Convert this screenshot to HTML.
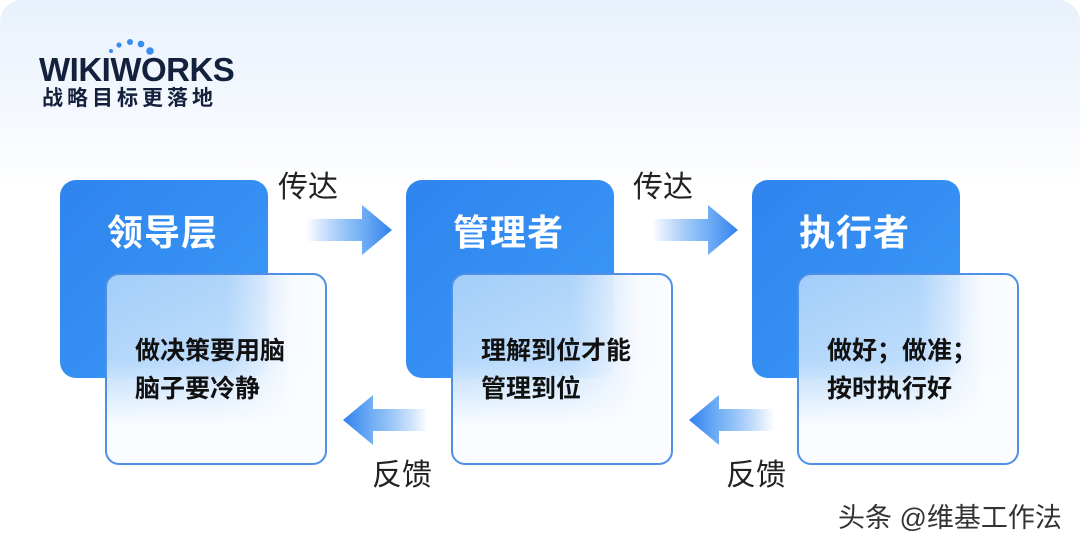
<!DOCTYPE html>
<html><head><meta charset="utf-8"><style>
*{margin:0;padding:0;box-sizing:border-box}
body{width:1080px;height:544px;overflow:hidden;background:#fff;font-family:"Liberation Sans","Noto Sans CJK SC",sans-serif;position:relative}
.bg{position:absolute;left:0;top:0;width:1080px;height:544px;border-radius:22px;background:linear-gradient(180deg,#e8f1fc 0%,#f6f9fe 22%,#fff 35%,#fff 100%)}
.blue{position:absolute;width:208px;height:198px;top:180px;border-radius:16px;background:linear-gradient(135deg,#2f84ee,#3b9af7)}
.blue span{position:absolute;left:47px;top:24px;color:#fff;font-size:36px;font-weight:bold;letter-spacing:1px}
.white{position:absolute;width:222px;height:192px;top:273px;border-radius:14px;border:2px solid #4f8fe6;background:linear-gradient(180deg,rgba(255,255,255,0) 0%,rgba(250,252,255,0.2) 45%,#fafcff 80%),linear-gradient(90deg,rgba(165,208,250,0.97) 0%,rgba(185,218,251,0.92) 55%,rgba(248,250,255,0.98) 85%,#fbfcff 100%)}
.white p{position:absolute;left:28px;top:57px;font-size:25px;font-weight:bold;color:#111;line-height:38px}
.lbl{position:absolute;font-size:30px;color:#222}
</style></head><body>
<div class="bg"></div>
<svg style="position:absolute;left:0;top:0" width="1080" height="544">
<defs>
<linearGradient id="ar" x1="0" x2="1"><stop offset="0" stop-color="#3b8cf0" stop-opacity="0"/><stop offset="0.6" stop-color="#5aa2f4" stop-opacity="0.8"/><stop offset="1" stop-color="#2f80ec"/></linearGradient>
<linearGradient id="al" x1="1" x2="0"><stop offset="0" stop-color="#3b8cf0" stop-opacity="0"/><stop offset="0.6" stop-color="#5aa2f4" stop-opacity="0.8"/><stop offset="1" stop-color="#2f80ec"/></linearGradient>
</defs>
<circle cx="111" cy="51" r="2" fill="#3b8cf0"/><circle cx="119" cy="45" r="2.6" fill="#3b8cf0"/><circle cx="130" cy="42" r="3" fill="#3b8cf0"/><circle cx="141" cy="44" r="3.3" fill="#3b8cf0"/><circle cx="150" cy="51" r="3.8" fill="#3b8cf0"/>
<path d="M306 219 H362 V205 L392 230 L362 255 V241 H306 Z" fill="url(#ar)"/>
<path d="M652 219 H708 V205 L738 230 L708 255 V241 H652 Z" fill="url(#ar)"/>
<path d="M428 409 H373 V395 L343 420 L373 445 V431 H428 Z" fill="url(#al)"/>
<path d="M774 409 H719 V395 L689 420 L719 445 V431 H774 Z" fill="url(#al)"/>
</svg>
<div style="position:absolute;left:39px;top:51px;font-size:33px;font-weight:900;color:#14213d;letter-spacing:-0.5px;font-family:'Liberation Sans',sans-serif">WIKIWORKS</div>
<div style="position:absolute;left:42px;top:82px;font-size:21px;font-weight:bold;color:#14213d;letter-spacing:4px">战略目标更落地</div>
<div class="blue" style="left:60px"><span>领导层</span></div>
<div class="blue" style="left:406px"><span>管理者</span></div>
<div class="blue" style="left:752px"><span>执行者</span></div>
<div class="white" style="left:105px"><p>做决策要用脑<br>脑子要冷静</p></div>
<div class="white" style="left:451px"><p>理解到位才能<br>管理到位</p></div>
<div class="white" style="left:797px"><p>做好；做准；<br>按时执行好</p></div>
<div class="lbl" style="left:278px;top:162px">传达</div>
<div class="lbl" style="left:633px;top:162px">传达</div>
<div class="lbl" style="left:372px;top:450px">反馈</div>
<div class="lbl" style="left:726px;top:450px">反馈</div>
<div style="position:absolute;left:838px;top:496px;font-size:27px;color:#333">头条 @维基工作法</div>
</body></html>
